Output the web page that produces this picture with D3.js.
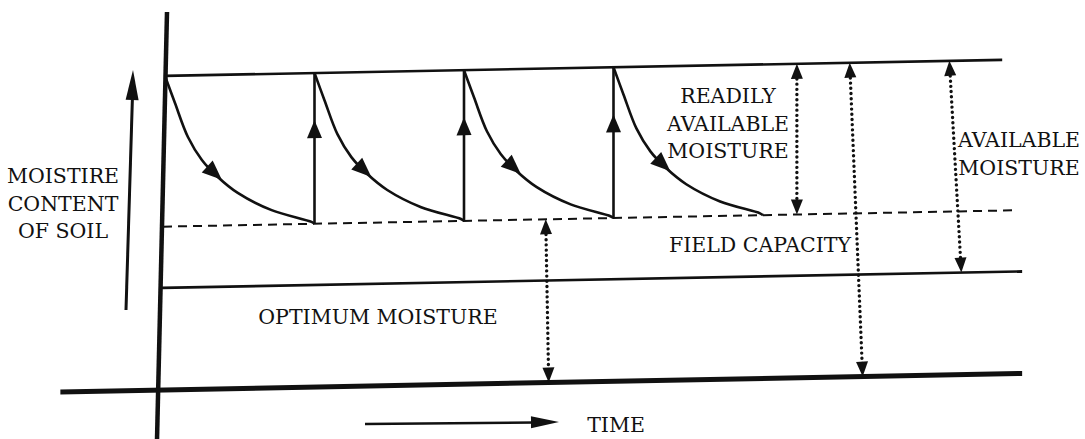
<!DOCTYPE html>
<html>
<head>
<meta charset="utf-8">
<script src="https://cdn.jsdelivr.net/npm/d3@7"></script>
<style>
  body { margin: 0; background: #fff; }
</style>
</head>
<body>
<svg id="moisture" width="1085" height="439"></svg>
<script>
// moisture levels (0 = base line, 100 = top line), with the time span each line covers
const levelNames = ["top", "irrigation", "optimum", "base"];
const levelValues = [100, 52, 32.5, 0];
const levelFrom = [0, -0.2, -0.3, -10.5];
const levelTo = [84, 85.5, 86, 86];

// irrigation cycles: start time of each drying curve
const cycleStarts = [0, 15, 30, 45];
// one drying curve (time since irrigation, moisture)
const decayT = [0, 1, 2.3, 3.7, 5.3, 7.3, 10.7, 14.7, 15];
const decayV = [100, 91.3, 80.4, 73.0, 67.5, 62.3, 56.6, 52.6, 52];
const decayArrowIndex = 4;
const riserArrowV = 85;

// dotted double arrows: time at top, time at bottom, moisture from / to
const spanTopT = [63.4, 68.7, 78.7, 38.2];
const spanBottomT = [63.4, 70.0, 79.9, 38.5];
const spanFromV = [100, 100, 100, 52];
const spanToV = [52, 0, 32.5, 0];

// labels
const labelLines = [
  ["MOISTIRE", "CONTENT", "OF SOIL"],
  ["READILY", "AVAILABLE", "MOISTURE"],
  ["AVAILABLE", "MOISTURE"],
  ["FIELD CAPACITY"],
  ["OPTIMUM MOISTURE"],
  ["TIME"]
];

document.addEventListener('DOMContentLoaded', _ => {
  const svg = d3.select("svg#moisture");

  const xScale = d3.scaleLinear().domain([0, 60]).range([165, 763]);
  const yScale = d3.scaleLinear().domain([0, 100]).range([390, 76]);

  // the scanned drawing tilts slightly upward to the right
  let chart = svg.append("g")
    .attr("transform", "translate(160,0) skewY(-1.1) translate(-160,0)");

  function arrowHead(g, px, py, angle, len, wid) {
    g.append("path")
      .attr("d", `M0,0 L${-len},${-wid / 2} L${-len},${wid / 2} Z`)
      .attr("transform", `translate(${px},${py}) rotate(${angle})`)
      .attr("fill", "#111");
  }

  // horizontal level lines
  levelNames.forEach((name, i) => {
    let line = chart.append("line")
      .attr("x1", xScale(levelFrom[i]))
      .attr("x2", xScale(levelTo[i]))
      .attr("y1", yScale(levelValues[i]))
      .attr("y2", yScale(levelValues[i]))
      .attr("stroke", "#111");
    if (name == "irrigation") {
      line.attr("stroke-width", 2).attr("stroke-dasharray", "9,6");
    } else if (name == "base") {
      line.attr("stroke-width", 5);
    } else {
      line.attr("stroke-width", 2.6);
    }
  });

  // drying curves
  let curveGen = d3.line().curve(d3.curveCatmullRom.alpha(0.5));
  cycleStarts.forEach(s => {
    let pts = decayT.map((t, i) => [xScale(s + t), yScale(decayV[i])]);
    chart.append("path")
      .attr("d", curveGen(pts))
      .attr("fill", "none")
      .attr("stroke", "#111")
      .attr("stroke-width", 2.6);
    let a = pts[decayArrowIndex - 1], b = pts[decayArrowIndex + 1];
    let ang = Math.atan2(b[1] - a[1], b[0] - a[0]) * 180 / Math.PI;
    let p = pts[decayArrowIndex];
    arrowHead(chart, p[0] + 4, p[1] + 3, ang, 20, 16);
  });

  // irrigation risers
  cycleStarts.slice(1).forEach(s => {
    let rx = xScale(s);
    chart.append("line")
      .attr("x1", rx).attr("x2", rx)
      .attr("y1", yScale(levelValues[1]))
      .attr("y2", yScale(levelValues[0]))
      .attr("stroke", "#111")
      .attr("stroke-width", 2.6);
    arrowHead(chart, rx, yScale(riserArrowV), -90, 18, 15);
  });

  // dotted double arrows
  spanTopT.forEach((t, i) => {
    let x1 = xScale(t), y1 = yScale(spanFromV[i]);
    let x2 = xScale(spanBottomT[i]), y2 = yScale(spanToV[i]);
    let ang = Math.atan2(y2 - y1, x2 - x1) * 180 / Math.PI;
    let len = Math.hypot(x2 - x1, y2 - y1);
    let ux = (x2 - x1) / len, uy = (y2 - y1) / len;
    chart.append("line")
      .attr("x1", x1 + ux * 10).attr("y1", y1 + uy * 10)
      .attr("x2", x2 - ux * 10).attr("y2", y2 - uy * 10)
      .attr("stroke", "#111")
      .attr("stroke-width", 3.4)
      .attr("stroke-linecap", "round")
      .attr("stroke-dasharray", "0,5.2");
    arrowHead(chart, x1, y1, ang + 180, 15, 12);
    arrowHead(chart, x2, y2, ang, 15, 12);
  });

  // vertical axis
  svg.append("line")
    .attr("x1", 167).attr("y1", 12)
    .attr("x2", 157).attr("y2", 440)
    .attr("stroke", "#111")
    .attr("stroke-width", 4.5);

  // moisture arrow beside the axis title
  svg.append("line")
    .attr("x1", 126).attr("y1", 310)
    .attr("x2", 132.5).attr("y2", 95)
    .attr("stroke", "#111")
    .attr("stroke-width", 3);
  arrowHead(svg, 133, 70, -88.3, 30, 13);

  // time arrow
  svg.append("line")
    .attr("x1", 365).attr("y1", 424)
    .attr("x2", 535).attr("y2", 422.5)
    .attr("stroke", "#111")
    .attr("stroke-width", 2.6);
  arrowHead(svg, 559, 422, -0.4, 28, 12);

  // labels
  const labelPos = [
    [63, 183, 27.5],
    [728, 103, 27.5],
    [1019, 147, 28],
    [760, 252, 0],
    [378, 324, 0],
    [616, 432, 0]
  ];
  labelLines.forEach((lines, i) => {
    let [lx, ly, lh] = labelPos[i];
    lines.forEach((s, j) => {
      svg.append("text")
        .text(s)
        .attr("x", lx)
        .attr("y", ly + j * lh)
        .attr("text-anchor", "middle")
        .attr("font-family", "DejaVu Serif")
        .attr("font-size", 20.5)
        .attr("fill", "#111");
    });
  });
});
</script>
</body>
</html>
